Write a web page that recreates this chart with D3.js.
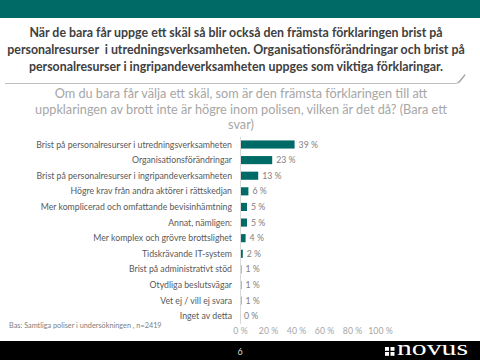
<!DOCTYPE html>
<html><head><meta charset="utf-8">
<script src="https://cdn.jsdelivr.net/npm/d3@7"></script>
<style>html,body{margin:0;padding:0;background:#fff;}svg{display:block;}</style>
</head><body>
<script>
const categories = [
  "Brist på personalresurser i utredningsverksamheten",
  "Organisationsförändringar",
  "Brist på personalresurser i ingripandeverksamheten",
  "Högre krav från andra aktörer i rättskedjan",
  "Mer komplicerad och omfattande bevisinhämtning",
  "Annat, nämligen:",
  "Mer komplex och grövre brottslighet",
  "Tidskrävande IT-system",
  "Brist på administrativt stöd",
  "Otydliga beslutsvägar",
  "Vet ej / vill ej svara",
  "Inget av detta"
];
const values = [39, 23, 13, 6, 5, 5, 4, 2, 1, 1, 1, 0];
const tickValues = [0, 20, 40, 60, 80, 100];
const titleLines = [
  "När de bara får uppge ett skäl så blir också den främsta förklaringen brist på",
  "personalresurser  i utredningsverksamheten. Organisationsförändringar och brist på",
  "personalresurser i ingripandeverksamheten uppges som viktiga förklaringar."
];
const questionLines = [
  "Om du bara får välja ett skäl, som är den främsta förklaringen till att",
  "uppklaringen av brott inte är högre inom polisen, vilken är det då? (Bara ett",
  "svar)"
];
const footnote = "Bas: Samtliga poliser i undersökningen , n=2419";
const pageNumber = "6";

const W = 480, H = 360;
const teal = "#006b66";
const svg = d3.select("body").append("svg").attr("width", W).attr("height", H);
const FONT = "Lato, 'Open Sans', sans-serif";

function fitSize(text, weight, target, base) {
  const t = svg.append("text").attr("font-family", FONT).attr("font-weight", weight)
    .attr("font-size", base).attr("xml:space","preserve").text(text);
  const w = t.node().getComputedTextLength();
  t.remove();
  return base * target / w;
}

// top band
svg.append("rect").attr("x",0).attr("y",0).attr("width",W).attr("height",18).attr("fill",teal);

// title
const tSize = fitSize(titleLines[1], "bold", 458, 13);
svg.append("g").selectAll("text").data(titleLines).join("text")
  .attr("x", 236).attr("y", (d,i) => 37 + i*17)
  .attr("text-anchor","middle").attr("font-family",FONT).attr("font-weight","bold")
  .attr("font-size", tSize).attr("fill","#404040").attr("xml:space","preserve").text(d => d);

// box bottom line with curl
svg.append("path").attr("d","M5,83.5 L456,83.5 Q460,83 462,79 L465,74")
  .attr("fill","none").attr("stroke","#bfbfbf").attr("stroke-width",1);
svg.append("path").attr("d","M458,83 L465,75").attr("stroke","#a6a6a6").attr("stroke-width",1.2).attr("fill","none");

// question
const qSize = fitSize(questionLines[1], "normal", 412, 12);
svg.append("g").selectAll("text").data(questionLines).join("text")
  .attr("x", 241).attr("y", (d,i) => 98 + i*15.5)
  .attr("text-anchor","middle").attr("font-family",FONT)
  .attr("font-size", qSize).attr("fill","#a6a6a6").text(d => d);

// chart
const x = d3.scaleLinear().domain([0,100]).range([240,380]);
const y = d3.scaleBand().domain(categories).range([136.7, 324]).paddingInner(0.48).paddingOuter(0.24);

const lSize = fitSize(categories[0], "normal", 196, 8.5);

svg.append("g").selectAll("rect").data(values).join("rect")
  .attr("x", x(0)).attr("y", (d,i) => y(categories[i]))
  .attr("width", d => x(d) - x(0)).attr("height", y.bandwidth())
  .attr("fill", teal);

svg.append("line").attr("x1",x(0)+0.5).attr("x2",x(0)+0.5).attr("y1",136.7).attr("y2",324)
  .attr("stroke","#d9d9d9").attr("stroke-width",1);

svg.append("g").selectAll("text").data(categories).join("text")
  .attr("x", 232).attr("y", d => y(d) + y.bandwidth()/2).attr("dy","0.35em")
  .attr("text-anchor","end").attr("font-family",FONT).attr("font-size",lSize)
  .attr("fill","#595959").text(d => d);

svg.append("g").selectAll("text").data(values).join("text")
  .attr("x", d => x(d) + 4).attr("y", (d,i) => y(categories[i]) + y.bandwidth()/2).attr("dy","0.35em")
  .attr("font-family",FONT).attr("font-size",lSize)
  .attr("fill","#808080").text(d => d + " %");

// x axis labels
const axis = d3.axisBottom(x).tickValues(tickValues).tickSize(0).tickFormat(d => d + " %");
const ag = svg.append("g").attr("transform","translate(0,326)").call(axis);
ag.select(".domain").remove();
ag.selectAll("text").attr("font-family",FONT).attr("font-size",lSize).attr("fill","#a6a6a6").attr("dy","0.55em");

// footnote
svg.append("text").attr("x",9).attr("y",328).attr("font-family",FONT)
  .attr("font-size", fitSize(footnote,"normal",153,7)).attr("fill","#808080").text(footnote);

// footer
svg.append("rect").attr("x",0).attr("y",341).attr("width",W).attr("height",19).attr("fill","#000");
svg.append("text").attr("x",240).attr("y",354.5).attr("text-anchor","middle")
  .attr("font-family",FONT).attr("font-size",9).attr("fill","#d9d9d9").text(pageNumber);

// logo
const lg = svg.append("g");
[[0,0],[1,0],[0,1],[1,1]].forEach(([i,j]) => {
  lg.append("rect").attr("x",385+i*5.5).attr("y",347+j*5).attr("width",4).attr("height",3.8).attr("fill","#fff");
});
lg.append("text").attr("x",397).attr("y",355).attr("font-family","'Liberation Serif', serif")
  .attr("font-size",22).attr("fill","#fff").attr("textLength",71).attr("lengthAdjust","spacingAndGlyphs").text("novus");
</script>
</body></html>
